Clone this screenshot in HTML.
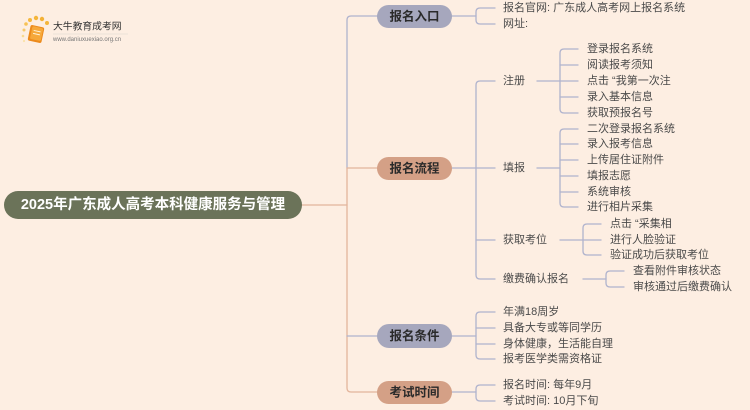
<!DOCTYPE html>
<html>
<head>
<meta charset="utf-8">
<style>
html,body{margin:0;padding:0;background:#fdeee2;}
svg{display:block;}
text{font-family:"Liberation Sans","Noto Sans CJK SC",sans-serif;}
</style>
</head>
<body>
<svg width="750" height="410" viewBox="0 0 750 410" xmlns="http://www.w3.org/2000/svg">
<rect width="750" height="410" fill="#fdeee2"/>

<!-- logo -->
<g>
  <circle cx="24" cy="30" r="1.5" fill="#f7c96a"/>
  <circle cx="26" cy="24" r="1.8" fill="#f7c255"/>
  <circle cx="30" cy="20" r="2" fill="#f5b93f"/>
  <circle cx="36" cy="18" r="2.2" fill="#f4b53a"/>
  <circle cx="42" cy="19" r="2.2" fill="#f3b136"/>
  <circle cx="47" cy="23" r="2" fill="#f4b53a"/>
  <circle cx="23" cy="36" r="1.3" fill="#f9d98f"/>
  <circle cx="24" cy="41" r="1.1" fill="#fbe2a8"/>
  <g transform="rotate(12 36 34)">
    <rect x="29" y="26" width="14" height="16" rx="2" fill="#ec8a1c"/>
    <rect x="31" y="27" width="11" height="13" rx="1.5" fill="#f6a83a"/>
    <line x1="33" y1="31" x2="40" y2="31" stroke="#fff3d8" stroke-width="1"/>
    <line x1="33" y1="34" x2="40" y2="34" stroke="#fff3d8" stroke-width="1"/>
  </g>
  <text x="53" y="29.5" font-size="9.8" fill="#333">大牛教育成考网</text>
  <line x1="53" y1="34" x2="128" y2="34" stroke="#e6dcd4" stroke-width="0.8"/>
  <text x="53" y="41" font-size="6" fill="#777">www.daniuxuexiao.org.cn</text>
</g>

<g fill="none" stroke-width="1.3" stroke-linecap="round">
  <!-- trunk -->
  <path d="M377 16 H351 Q347 16 347 20 V168" stroke="#b0b3cd"/>
  <path d="M347 168 V388 Q347 392 351 392 H377" stroke="#e3b59c"/>
  <path d="M347 168 H377" stroke="#e3b59c"/>
  <path d="M302 205 H347" stroke="#e3b59c"/>
  <path d="M347 336 H377" stroke="#b0b3cd"/>

  <g stroke="#b0b3cd">
    <!-- 报名入口 -->
    <path d="M452 16 H476"/>
    <path d="M495 8 H480 Q476 8 476 12 V20 Q476 24 480 24 H495"/>
    <!-- 报名流程 -->
    <path d="M452 168 H476"/>
    <path d="M495 81 H480 Q476 81 476 85 V275 Q476 279 480 279 H495"/>
    <path d="M476 168 H495 M476 240 H495"/>
    <!-- 注册 -->
    <path d="M537 81 H560"/>
    <path d="M578 49 H564 Q560 49 560 53 V109 Q560 113 564 113 H578"/>
    <path d="M560 65 H578 M560 81 H578 M560 97 H578"/>
    <!-- 填报 -->
    <path d="M537 168 H560"/>
    <path d="M578 129 H564 Q560 129 560 133 V203 Q560 207 564 207 H578"/>
    <path d="M560 144 H578 M560 160 H578 M560 176 H578 M560 192 H578"/>
    <!-- 获取考位 -->
    <path d="M560 240 H583"/>
    <path d="M601 224 H587 Q583 224 583 228 V251 Q583 255 587 255 H601"/>
    <path d="M583 240 H601"/>
    <!-- 缴费确认报名 -->
    <path d="M583 279 H606"/>
    <path d="M624 271 H610 Q606 271 606 275 V283 Q606 287 610 287 H624"/>
    <!-- 报名条件 -->
    <path d="M452 336 H476"/>
    <path d="M495 312 H480 Q476 312 476 316 V355 Q476 359 480 359 H495"/>
    <path d="M476 328 H495 M476 344 H495"/>
    <!-- 考试时间 -->
    <path d="M452 392 H476"/>
    <path d="M495 385 H480 Q476 385 476 389 V397 Q476 401 480 401 H495"/>
  </g>
</g>

<!-- root -->
<rect x="4" y="191" width="298" height="28" rx="14" fill="#6b7359"/>
<text x="153" y="205" font-size="14.5" font-weight="bold" fill="#fff" text-anchor="middle" dominant-baseline="central">2025年广东成人高考本科健康服务与管理</text>

<!-- level 1 pills -->
<rect x="377" y="5" width="75" height="23" rx="11.5" fill="#a6a7bd"/>
<text x="414.5" y="16.5" font-size="12.5" font-weight="bold" fill="#2a2a2a" text-anchor="middle" dominant-baseline="central">报名入口</text>
<rect x="377" y="157" width="75" height="23" rx="11.5" fill="#d4a086"/>
<text x="414.5" y="168.5" font-size="12.5" font-weight="bold" fill="#2a2a2a" text-anchor="middle" dominant-baseline="central">报名流程</text>
<rect x="377" y="324" width="75" height="24" rx="12" fill="#a6a7bd"/>
<text x="414.5" y="336" font-size="12.5" font-weight="bold" fill="#2a2a2a" text-anchor="middle" dominant-baseline="central">报名条件</text>
<rect x="377" y="381" width="75" height="23" rx="11.5" fill="#d4a086"/>
<text x="414.5" y="392.5" font-size="12.5" font-weight="bold" fill="#2a2a2a" text-anchor="middle" dominant-baseline="central">考试时间</text>

<g font-size="11" fill="#4a4a4a" dominant-baseline="central">
  <text x="503" y="8">报名官网: 广东成人高考网上报名系统</text>
  <text x="503" y="24">网址:</text>

  <text x="503" y="81">注册</text>
  <text x="503" y="168">填报</text>
  <text x="503" y="240">获取考位</text>
  <text x="503" y="279">缴费确认报名</text>

  <text x="587" y="49">登录报名系统</text>
  <text x="587" y="65">阅读报考须知</text>
  <text x="587" y="81">点击 “我第一次注</text>
  <text x="587" y="97">录入基本信息</text>
  <text x="587" y="113">获取预报名号</text>

  <text x="587" y="129">二次登录报名系统</text>
  <text x="587" y="144">录入报考信息</text>
  <text x="587" y="160">上传居住证附件</text>
  <text x="587" y="176">填报志愿</text>
  <text x="587" y="192">系统审核</text>
  <text x="587" y="207">进行相片采集</text>

  <text x="610" y="224">点击 “采集相</text>
  <text x="610" y="240">进行人脸验证</text>
  <text x="610" y="255">验证成功后获取考位</text>

  <text x="633" y="271">查看附件审核状态</text>
  <text x="633" y="287">审核通过后缴费确认</text>

  <text x="503" y="312">年满18周岁</text>
  <text x="503" y="328">具备大专或等同学历</text>
  <text x="503" y="344">身体健康，生活能自理</text>
  <text x="503" y="359">报考医学类需资格证</text>

  <text x="503" y="385">报名时间: 每年9月</text>
  <text x="503" y="401">考试时间: 10月下旬</text>
</g>
</svg>
</body>
</html>
